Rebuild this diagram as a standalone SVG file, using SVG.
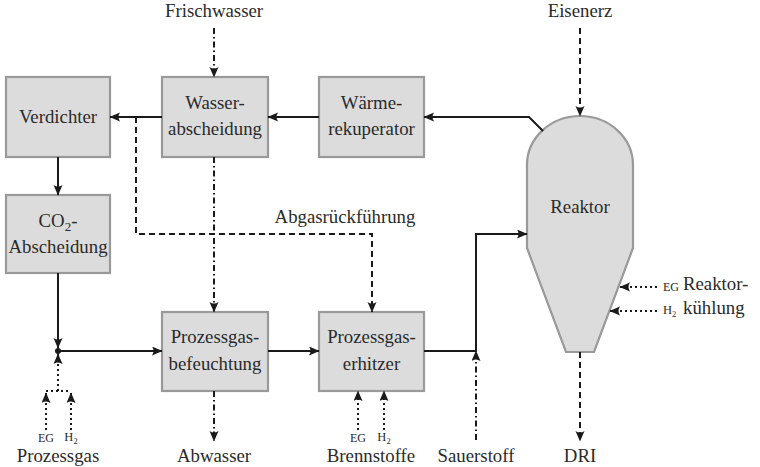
<svg xmlns="http://www.w3.org/2000/svg" width="760" height="467" viewBox="0 0 760 467" font-family="'Liberation Serif', 'DejaVu Serif', serif">
<defs>
<marker id="ah" markerUnits="userSpaceOnUse" markerWidth="12" markerHeight="10" refX="10" refY="4.5" orient="auto">
<path d="M0,0 Q3,4.5 0,9 L10.5,4.5 Z" fill="#1a1a1a"/>
</marker>
<style>
text{font-family:'Liberation Serif','DejaVu Serif',serif;font-size:18.8px;fill:#2a2a2a;text-anchor:middle}
.sm{font-size:12px}
.st{font-size:12.5px}
.lft{text-anchor:start}
.box{fill:#dcdcdc;stroke:#999;stroke-width:2.2}
.c{fill:none;stroke:#1a1a1a;stroke-width:2}
.dash{stroke-dasharray:6 4}
.dd{stroke-dasharray:6 3 1.5 3}
.dot{stroke-dasharray:2 3}
</style>
</defs>
<rect width="760" height="467" fill="#fff"/>

<g id="verdichter"><rect class="box" x="6" y="77" width="104" height="80"/><text x="58" y="123">Verdichter</text></g>
<g id="co2"><rect class="box" x="6" y="195" width="104" height="78"/><text x="58" y="227">CO<tspan font-size="13" dy="4">2</tspan><tspan dy="-4">-</tspan></text><text x="58" y="253">Abscheidung</text></g>
<g id="wasserabscheidung"><rect class="box" x="162" y="77" width="106" height="80"/><text x="215" y="109">Wasser-</text><text x="215" y="135">abscheidung</text></g>
<g id="waermerekuperator"><rect class="box" x="319" y="77" width="105" height="80"/><text x="371.5" y="109">Wärme-</text><text x="371.5" y="135">rekuperator</text></g>
<g id="befeuchtung"><rect class="box" x="162" y="312" width="106" height="79"/><text x="215" y="343">Prozessgas-</text><text x="215" y="370">befeuchtung</text></g>
<g id="erhitzer"><rect class="box" x="319" y="312" width="105" height="79"/><text x="371.5" y="343">Prozessgas-</text><text x="371.5" y="370">erhitzer</text></g>
<g id="reaktor"><path class="box" d="M527,248 L527,165 A53,49 0 0 1 633,165 L633,248 L594,352 L566,352 Z"/><text x="580" y="213">Reaktor</text></g>

<g id="labels">
<text x="214" y="17">Frischwasser</text>
<text x="580" y="17">Eisenerz</text>
<text x="345" y="223">Abgasrückführung</text>
<text x="58" y="462">Prozessgas</text>
<text x="214" y="462">Abwasser</text>
<text x="371" y="462">Brennstoffe</text>
<text x="476" y="462">Sauerstoff</text>
<text x="580" y="462">DRI</text>
<text class="lft" x="683" y="290">Reaktor-</text>
<text class="lft" x="683" y="314">kühlung</text>
<text class="sm" x="46" y="442">EG</text>
<text class="st" x="71" y="441">H<tspan font-size="8.5" dy="2.5">2</tspan></text>
<text class="sm" x="358" y="442">EG</text>
<text class="st" x="384" y="441">H<tspan font-size="8.5" dy="2.5">2</tspan></text>
<text class="sm lft" x="663" y="291">EG</text>
<text class="st lft" x="663" y="314">H<tspan font-size="8.5" dy="2.5">2</tspan></text>
</g>

<g id="connectors">
<path class="c" d="M319,117 L268,117" marker-end="url(#ah)"/>
<path class="c" d="M162,117 L110,117" marker-end="url(#ah)"/>
<path class="c" d="M543,131 L529,117 L424,117" marker-end="url(#ah)"/>
<path class="c" d="M58,157 L58,195" marker-end="url(#ah)"/>
<path class="c" d="M58,273 L58,348" marker-end="url(#ah)"/>
<circle cx="58" cy="351" r="3" fill="#1a1a1a"/>
<path class="c" d="M58,351 L162,351" marker-end="url(#ah)"/>
<path class="c" d="M268,351 L319,351" marker-end="url(#ah)"/>
<path class="c" d="M424,351 L476,351 L476,234 L527,234" marker-end="url(#ah)"/>
<path class="c dd" d="M214,28 L214,77" marker-end="url(#ah)"/>
<path class="c dd" d="M214,157 L214,312" marker-end="url(#ah)"/>
<path class="c dd" d="M214,391 L214,441" marker-end="url(#ah)"/>
<path class="c dd" d="M476,440 L476,351" marker-end="url(#ah)"/>
<path class="c dash" d="M136,117 L136,234 L372,234 L372,312" marker-end="url(#ah)"/>
<path class="c dash" d="M580,28 L580,116" marker-end="url(#ah)"/>
<path class="c dash" d="M580,352 L580,441" marker-end="url(#ah)"/>
<path class="c dot" d="M46,430 L46,393" marker-end="url(#ah)"/>
<path class="c dot" d="M71,430 L71,393" marker-end="url(#ah)"/>
<path class="c dot" d="M46,391 L71,391"/>
<path class="c dot" d="M58,391 L58,354" marker-end="url(#ah)"/>
<path class="c dot" d="M358,430 L358,391" marker-end="url(#ah)"/>
<path class="c dot" d="M384,430 L384,391" marker-end="url(#ah)"/>
<path class="c dot" d="M657,287 L620,287" marker-end="url(#ah)"/>
<path class="c dot" d="M657,311 L610,311" marker-end="url(#ah)"/>
</g>
</svg>
